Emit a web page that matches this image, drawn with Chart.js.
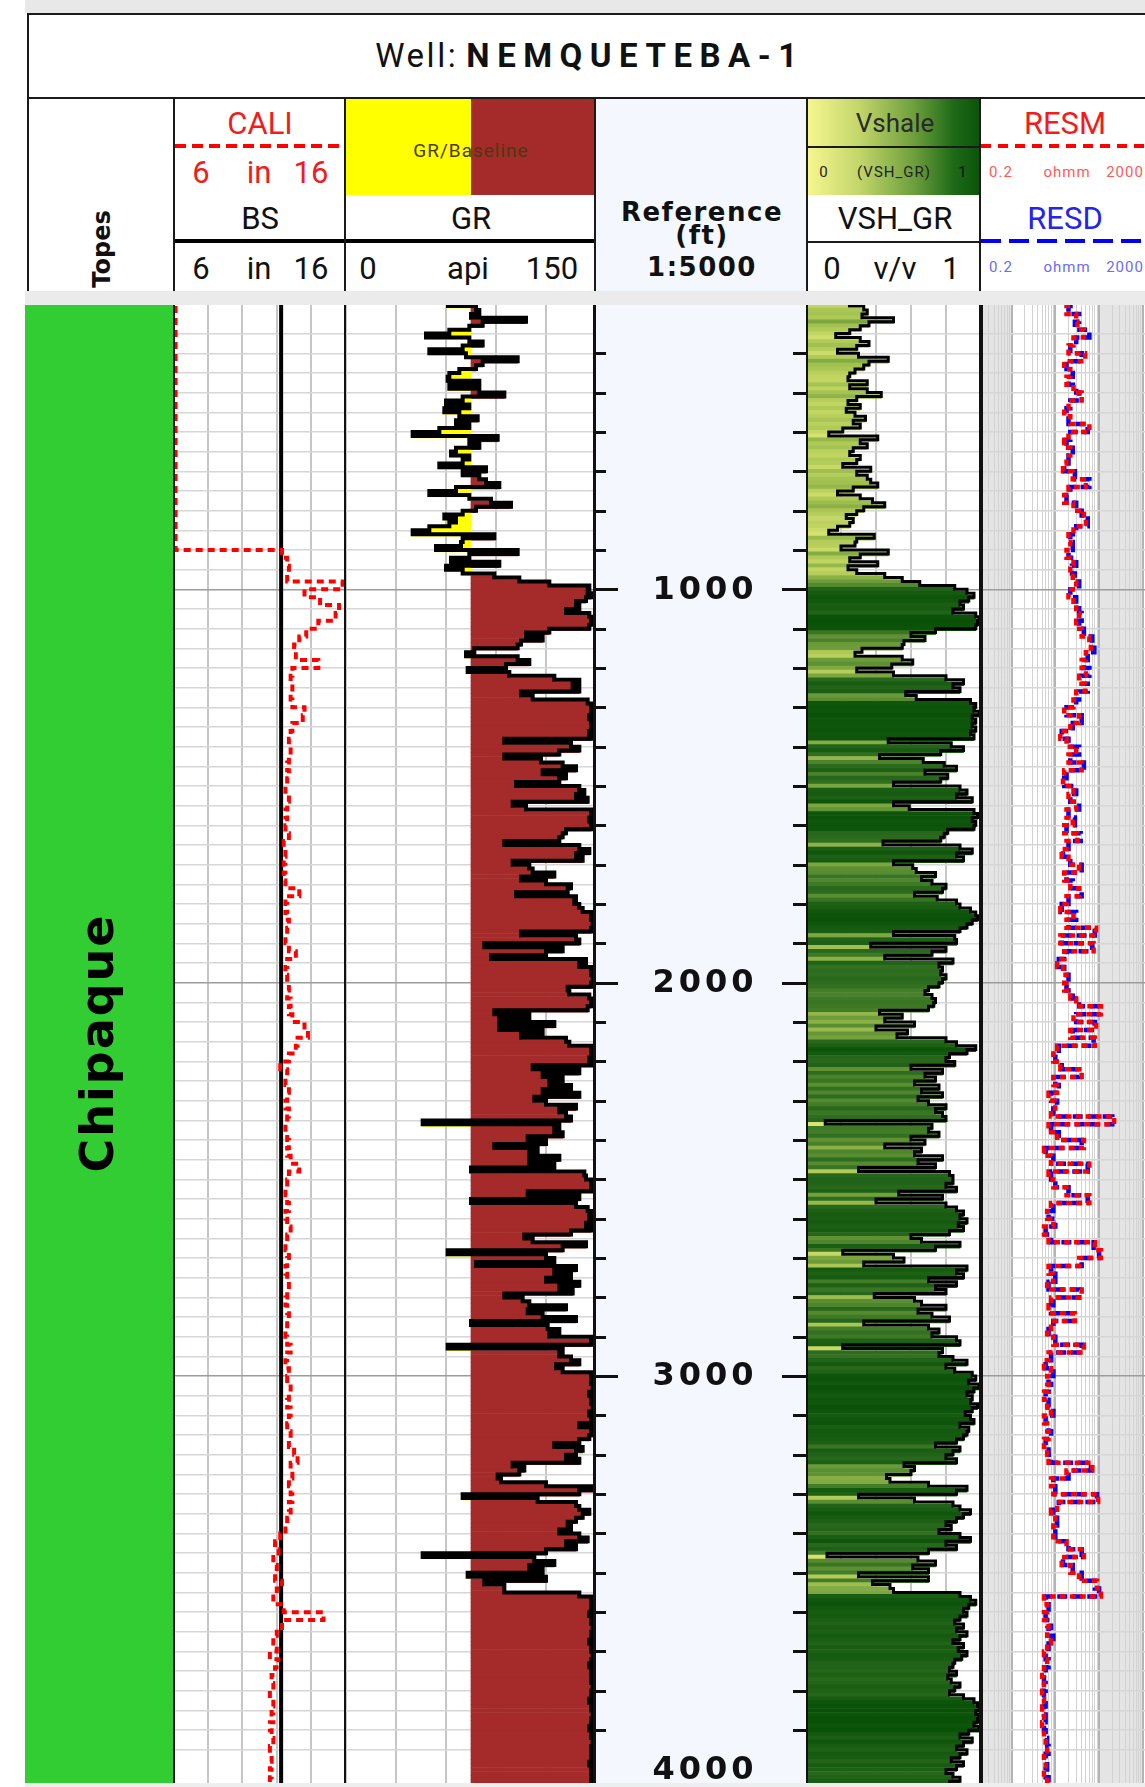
<!DOCTYPE html>
<html lang="es">
<head>
<meta charset="UTF-8" />
<meta name="viewport" content="width=device-width, initial-scale=1" />
<title>Well: NEMQUETEBA-1</title>
<script src="https://cdn.jsdelivr.net/npm/chart.js"></script>
<style>
  body { margin: 0; width: 1145px; height: 1787px; overflow: hidden; position: relative; background: #fff;
         font-family: Roboto, "Liberation Sans", Arial, sans-serif; color: #111; }
  .box { position: absolute; }
  .t { position: absolute; transform: translate(-50%, -50%); white-space: nowrap; line-height: 1; }
  .lbl { font-size: 31px; }
  .red { color: #f21c1c; }
  .blue { color: #2424ee; }
  .small { font-size: 15px; letter-spacing: 1px; }
  .ref { font-family: "DejaVu Sans", Verdana, sans-serif; font-weight: bold; font-size: 26px; letter-spacing: 1.5px; }
  canvas.track { position: absolute; top: 305px; }
</style>
</head>
<body>
  <!-- frame + title -->
  <div class="box" style="left:25px;top:0;width:1120px;height:13px;background:#e8e8e8"></div>
  <div class="box" style="left:27px;top:13px;width:1118px;height:2px;background:#1a1a1a"></div>
  <div class="box" style="left:27px;top:13px;width:2px;height:278px;background:#1a1a1a"></div>
  <div class="box" style="left:27px;top:97px;width:1118px;height:2px;background:#1a1a1a"></div>
  <div class="t" style="left:590px;top:55px;font-size:33px"><span style="letter-spacing:2.5px">Well:</span> <b style="letter-spacing:7.5px">NEMQUETEBA-1</b></div>

  <!-- header backgrounds -->
  <div class="box" style="left:346px;top:99px;width:125px;height:96px;background:#ffff00"></div>
  <div class="box" style="left:471px;top:99px;width:123px;height:96px;background:#a52a2a"></div>
  <div class="box" style="left:596px;top:99px;width:210px;height:192px;background:#f4f8fe"></div>
  <div class="box" style="left:808px;top:99px;width:171px;height:96px;background:linear-gradient(90deg,#f6f68e 0%,#c2d66a 30%,#6d9f3c 62%,#1f6a18 85%,#0a550a 100%)"></div>
  <div class="box" style="left:808px;top:146px;width:171px;height:2px;background:#1a1a1a"></div>

  <!-- header column separators -->
  <div class="box" style="left:173px;top:98px;width:2px;height:193px;background:#1a1a1a"></div>
  <div class="box" style="left:344px;top:98px;width:2px;height:193px;background:#1a1a1a"></div>
  <div class="box" style="left:594px;top:98px;width:2px;height:193px;background:#1a1a1a"></div>
  <div class="box" style="left:806px;top:98px;width:2px;height:193px;background:#1a1a1a"></div>
  <div class="box" style="left:979px;top:98px;width:2px;height:193px;background:#1a1a1a"></div>

  <!-- curve line samples -->
  <div class="box" style="left:175px;top:144px;width:169px;height:4px;background:repeating-linear-gradient(90deg,#ff0000 0 11px,transparent 11px 17px)"></div>
  <div class="box" style="left:175px;top:239px;width:169px;height:4px;background:#000"></div>
  <div class="box" style="left:346px;top:239px;width:248px;height:4px;background:#000"></div>
  <div class="box" style="left:808px;top:241px;width:171px;height:2px;background:#1a1a1a"></div>
  <div class="box" style="left:981px;top:144px;width:164px;height:4px;background:repeating-linear-gradient(90deg,#ff0000 0 10px,transparent 10px 17px)"></div>
  <div class="box" style="left:981px;top:239px;width:164px;height:4px;background:repeating-linear-gradient(90deg,#0000ff 0 20px,transparent 20px 28px)"></div>

  <!-- header texts -->
  <div class="t" style="left:102px;top:249px;font-family:'DejaVu Sans',sans-serif;font-weight:bold;font-size:24px;transform:translate(-50%,-50%) rotate(-90deg)">Topes</div>

  <div class="t lbl red" style="left:260px;top:123px">CALI</div>
  <div class="t lbl red" style="left:201px;top:172px">6</div>
  <div class="t lbl red" style="left:259px;top:172px">in</div>
  <div class="t lbl red" style="left:311px;top:172px">16</div>
  <div class="t lbl" style="left:260px;top:218px">BS</div>
  <div class="t lbl" style="left:201px;top:268px">6</div>
  <div class="t lbl" style="left:259px;top:268px">in</div>
  <div class="t lbl" style="left:311px;top:268px">16</div>

  <div class="t" style="left:471px;top:150px;font-size:19px;letter-spacing:1px;color:#4a3a10">GR/Baseline</div>
  <div class="t lbl" style="left:471px;top:218px">GR</div>
  <div class="t lbl" style="left:368px;top:268px">0</div>
  <div class="t lbl" style="left:468px;top:268px">api</div>
  <div class="t lbl" style="left:552px;top:268px">150</div>

  <div class="t ref" style="left:702px;top:212px">Reference</div>
  <div class="t ref" style="left:702px;top:235px">(ft)</div>
  <div class="t ref" style="left:702px;top:267px">1:5000</div>

  <div class="t" style="left:895px;top:123px;font-size:26px;color:#2a2a2a">Vshale</div>
  <div class="t small" style="left:824px;top:172px;color:#222">0</div>
  <div class="t small" style="left:894px;top:172px;color:#222">(VSH_GR)</div>
  <div class="t small" style="left:963px;top:172px;color:#111">1</div>
  <div class="t lbl" style="left:895px;top:218px">VSH_GR</div>
  <div class="t lbl" style="left:832px;top:268px">0</div>
  <div class="t lbl" style="left:895px;top:268px">v/v</div>
  <div class="t lbl" style="left:951px;top:268px">1</div>

  <div class="t lbl red" style="left:1065px;top:123px">RESM</div>
  <div class="t small" style="left:1001px;top:172px;color:#ff5a5a">0.2</div>
  <div class="t small" style="left:1067px;top:172px;color:#ff5a5a">ohmm</div>
  <div class="t small" style="left:1125px;top:172px;color:#ff5a5a">2000</div>
  <div class="t lbl blue" style="left:1065px;top:218px">RESD</div>
  <div class="t small" style="left:1001px;top:267px;color:#6a6aff">0.2</div>
  <div class="t small" style="left:1067px;top:267px;color:#6a6aff">ohmm</div>
  <div class="t small" style="left:1125px;top:267px;color:#6a6aff">2000</div>

  <!-- band between header and tracks -->
  <div class="box" style="left:25px;top:291px;width:1120px;height:14px;background:#ebebeb"></div>
  <div class="box" style="left:25px;top:1783px;width:1120px;height:4px;background:#eeeeee"></div>

  <canvas id="topes" class="track" width="148" height="1478" style="left:25px"></canvas>
  <canvas id="cali" class="track" width="173" height="1478" style="left:173px"></canvas>
  <canvas id="gr" class="track" width="250" height="1478" style="left:346px"></canvas>
  <canvas id="ref" class="track" width="210" height="1478" style="left:596px;background:#f4f8fe"></canvas>
  <canvas id="vsh" class="track" width="175" height="1478" style="left:806px"></canvas>
  <canvas id="res" class="track" width="175" height="1478" style="left:981px"></canvas>

<script>
// visible depth window (ft)
const DEPTH_TOP = 277.3;
const DEPTH_BASE = 4034.3;

// GR and VSH_GR: one sample every 10 ft from 280 ft
const FINE_START = 280, FINE_STEP = 10;
const grApi = [
  60, 78, 80, 75, 108, 82, 74, 62, 48, 74,        // 280
  82, 70, 50, 72, 103, 82, 78, 68, 62, 61,        // 380
  80, 62, 80, 95, 70, 60, 74, 59, 68, 79,         // 480
  66, 74, 56, 40, 91, 74, 80, 66, 63, 74,         // 580
  70, 56, 84, 70, 80, 84, 92, 66, 50, 74,         // 680
  87, 99, 78, 70, 59, 66, 62, 50, 40, 89,         // 780
  70, 69, 54, 103, 74, 63, 92, 60, 70, 89,        // 880
  104, 122, 146, 145, 147, 144, 138, 140, 132, 146, // 980
  148, 147, 146, 122, 108, 118, 105, 103, 77, 72, // 1080
  103, 110, 96, 73, 98, 125, 140, 136, 140, 105,  // 1180
  112, 145, 148, 147, 149, 146, 148, 147, 148, 146, // 1280
  147, 95, 135, 140, 128, 95, 117, 130, 138, 118, // 1380
  132, 128, 102, 140, 143, 138, 145, 100, 108, 147, // 1480
  148, 146, 148, 147, 132, 130, 128, 95, 140, 146, // 1580
  138, 142, 100, 110, 112, 125, 105, 120, 135, 133, // 1680
  102, 138, 137, 140, 142, 148, 147, 148, 149, 147, // 1780
  105, 138, 140, 83, 130, 120, 87, 144, 140, 148, // 1880
  147, 149, 148, 147, 133, 134, 146, 148, 147, 145, // 1980
  89, 110, 92, 125, 92, 118, 105, 132, 134, 148,  // 2080
  147, 148, 146, 148, 112, 140, 118, 130, 122, 135, // 2180
  118, 140, 113, 120, 138, 128, 132, 135, 46, 128, // 2280
  125, 130, 109, 120, 89, 115, 110, 128, 110, 125, // 2380
  75, 143, 144, 148, 147, 148, 109, 140, 75, 138, // 2480
  145, 147, 146, 148, 144, 147, 135, 107, 112, 144, // 2580
  130, 61, 120, 125, 78, 138, 125, 135, 120, 140, // 2680
  128, 136, 95, 106, 110, 132, 109, 118, 138, 75, // 2780
  121, 128, 122, 148, 147, 61, 130, 128, 135, 140, // 2880
  126, 130, 147, 148, 147, 149, 148, 146, 148, 147, // 2980
  149, 148, 146, 147, 148, 140, 147, 148, 146, 140, // 3080
  125, 142, 138, 132, 140, 100, 107, 104, 91, 93, // 3180
  120, 148, 140, 70, 115, 138, 140, 146, 142, 138, // 3280
  133, 135, 128, 140, 145, 132, 138, 120, 46, 113, // 3380
  125, 110, 118, 73, 120, 83, 95, 95, 140, 147,   // 3480
  148, 147, 148, 146, 148, 147, 149, 148, 147, 148, // 3580
  146, 148, 147, 148, 149, 147, 146, 148, 147, 148, // 3680
  147, 149, 148, 147, 148, 146, 148, 147, 148, 149, // 3780
  147, 148, 146, 148, 147, 148, 149, 147, 148, 147, // 3880
  148, 146, 148, 147, 148, 147, 148                 // 3980
];
const vshGr = [
  0.24, 0.33, 0.35, 0.32, 0.50, 0.36, 0.31, 0.25, 0.17, 0.31, // 280
  0.36, 0.29, 0.18, 0.30, 0.47, 0.36, 0.33, 0.28, 0.25, 0.24, // 380
  0.35, 0.25, 0.35, 0.43, 0.29, 0.24, 0.31, 0.23, 0.28, 0.34, // 480
  0.27, 0.31, 0.21, 0.13, 0.41, 0.31, 0.35, 0.27, 0.25, 0.31, // 580
  0.29, 0.21, 0.37, 0.29, 0.35, 0.37, 0.41, 0.27, 0.18, 0.31, // 680
  0.38, 0.45, 0.33, 0.29, 0.23, 0.27, 0.25, 0.18, 0.13, 0.39, // 780
  0.29, 0.28, 0.20, 0.47, 0.31, 0.25, 0.41, 0.24, 0.29, 0.45, // 880
  0.55, 0.65, 0.85, 0.92, 0.96, 0.93, 0.88, 0.90, 0.84, 0.97, // 980
  0.99, 0.98, 0.97, 0.74, 0.60, 0.68, 0.56, 0.55, 0.32, 0.28, // 1080
  0.55, 0.61, 0.49, 0.29, 0.50, 0.80, 0.90, 0.84, 0.88, 0.57, // 1180
  0.63, 0.94, 0.97, 0.96, 0.99, 0.95, 0.97, 0.95, 0.97, 0.94, // 1280
  0.96, 0.47, 0.83, 0.90, 0.77, 0.42, 0.67, 0.79, 0.86, 0.68, // 1380
  0.81, 0.77, 0.50, 0.88, 0.92, 0.86, 0.95, 0.50, 0.59, 0.96, // 1480
  0.98, 0.95, 0.97, 0.96, 0.81, 0.79, 0.77, 0.44, 0.88, 0.95, // 1580
  0.86, 0.90, 0.50, 0.61, 0.63, 0.74, 0.66, 0.72, 0.80, 0.78, // 1680
  0.62, 0.75, 0.86, 0.88, 0.94, 0.97, 0.98, 0.95, 0.92, 0.88, // 1780
  0.50, 0.85, 0.86, 0.37, 0.80, 0.72, 0.45, 0.84, 0.76, 0.78, // 1880
  0.77, 0.80, 0.78, 0.76, 0.70, 0.68, 0.72, 0.74, 0.73, 0.70, // 1980
  0.42, 0.55, 0.45, 0.62, 0.40, 0.58, 0.52, 0.80, 0.86, 0.97, // 2080
  0.92, 0.82, 0.80, 0.85, 0.60, 0.78, 0.68, 0.74, 0.62, 0.76, // 2180
  0.66, 0.78, 0.64, 0.70, 0.80, 0.74, 0.78, 0.80, 0.11, 0.72, // 2280
  0.70, 0.76, 0.60, 0.68, 0.45, 0.66, 0.62, 0.78, 0.64, 0.74, // 2380
  0.30, 0.82, 0.84, 0.84, 0.80, 0.86, 0.53, 0.78, 0.40, 0.80, // 2480
  0.86, 0.90, 0.88, 0.92, 0.87, 0.90, 0.82, 0.60, 0.66, 0.88, // 2580
  0.74, 0.21, 0.50, 0.56, 0.33, 0.92, 0.86, 0.90, 0.70, 0.86, // 2680
  0.74, 0.80, 0.39, 0.62, 0.66, 0.80, 0.64, 0.72, 0.82, 0.33, // 2780
  0.70, 0.76, 0.72, 0.86, 0.88, 0.21, 0.78, 0.76, 0.84, 0.92, // 2880
  0.80, 0.85, 0.95, 0.97, 0.93, 0.99, 0.96, 0.92, 0.95, 0.94, // 2980
  0.98, 0.95, 0.91, 0.94, 0.96, 0.88, 0.93, 0.92, 0.90, 0.86, // 3080
  0.74, 0.88, 0.84, 0.80, 0.86, 0.56, 0.62, 0.60, 0.46, 0.48, // 3180
  0.70, 0.92, 0.86, 0.30, 0.62, 0.84, 0.88, 0.94, 0.90, 0.86, // 3280
  0.80, 0.83, 0.76, 0.88, 0.94, 0.80, 0.86, 0.70, 0.12, 0.64, // 3380
  0.74, 0.61, 0.70, 0.30, 0.70, 0.38, 0.48, 0.50, 0.88, 0.94, // 3480
  0.97, 0.93, 0.90, 0.92, 0.88, 0.85, 0.90, 0.86, 0.92, 0.88, // 3580
  0.84, 0.90, 0.87, 0.92, 0.89, 0.85, 0.84, 0.82, 0.86, 0.81, // 3680
  0.83, 0.88, 0.85, 0.82, 0.90, 0.96, 0.98, 0.99, 0.97, 0.99, // 3780
  0.98, 0.96, 0.99, 0.93, 0.88, 0.95, 0.90, 0.86, 0.92, 0.88, // 3880
  0.83, 0.90, 0.86, 0.80, 0.84, 0.88, 0.82                    // 3980
];

// CALI, RESM, RESD: one sample every 20 ft from 280 ft
const COARSE_START = 280, COARSE_STEP = 20;
const caliIn = [
  6.15, 6.15, 6.15, 6.15, 6.15, 6.15, 6.15, 6.15, 6.15, 6.15, // 280
  6.15, 6.15, 6.15, 6.15, 6.15, 6.15, 6.15, 6.15, 6.15, 6.15, // 480
  6.15, 6.15, 6.15, 6.15, 6.15, 6.15, 6.15, 6.15, 6.15, 6.15, // 680
  6.15, 6.15, 12.3, 12.6, 12.7, 12.6, 15.8, 13.6, 14.5, 15.6, // 880
  15.4, 14.4, 13.7, 13.3, 13.0, 13.1, 14.4, 12.9, 12.8, 12.9, // 1080
  12.8, 12.9, 13.6, 13.5, 12.9, 12.8, 12.7, 12.8, 12.7, 12.6, // 1280
  12.7, 12.6, 12.5, 12.7, 12.6, 12.5, 12.6, 12.5, 12.7, 12.4, // 1480
  12.5, 12.4, 12.5, 12.4, 12.5, 13.3, 12.5, 12.6, 12.5, 12.7, // 1680
  12.6, 12.5, 12.7, 13.1, 12.6, 12.5, 12.6, 12.7, 12.6, 12.8, // 1880
  12.7, 12.9, 13.6, 13.8, 13.2, 13.1, 12.7, 12.2, 12.6, 12.5, // 2080
  12.7, 12.6, 12.5, 12.7, 12.6, 12.5, 12.6, 12.7, 12.6, 12.8, // 2280
  13.3, 12.7, 12.6, 12.5, 12.6, 12.7, 12.5, 12.6, 12.8, 12.6, // 2480
  12.5, 12.7, 12.6, 12.5, 12.6, 12.7, 12.6, 12.5, 12.6, 12.7, // 2680
  12.6, 12.5, 12.6, 12.8, 12.6, 12.5, 12.7, 12.6, 12.8, 12.7, // 2880
  12.6, 12.8, 12.7, 12.6, 12.8, 12.7, 13.0, 13.2, 12.8, 12.9, // 3080
  12.7, 12.8, 12.9, 12.7, 12.8, 12.6, 12.5, 12.2, 11.9, 12.1, // 3280
  11.8, 12.0, 11.9, 12.3, 12.0, 11.8, 12.4, 14.7, 12.3, 12.0, // 3480
  11.8, 12.0, 11.6, 12.1, 11.9, 11.7, 11.8, 11.6, 11.8, 11.7, // 3680
  11.8, 11.6, 11.7, 11.8, 11.6, 11.7, 11.6, 11.7, 11.6        // 3880
];
const resdOhmm = [
  25, 20, 35, 28, 60, 30, 22, 40, 18, 25,   // 280
  20, 30, 35, 22, 18, 20, 55, 22, 18, 25,   // 480
  20, 16, 28, 60, 22, 18, 30, 40, 55, 30,   // 680
  22, 25, 20, 30, 24, 28, 35, 22, 30, 35,   // 880
  40, 35, 45, 70, 78, 55, 45, 60, 40, 55,   // 1080
  35, 30, 18, 40, 25, 14, 20, 35, 22, 45,   // 1280
  18, 16, 30, 22, 35, 20, 28, 18, 38, 20,   // 1480
  15, 22, 40, 18, 25, 40, 20, 14, 30, 20,   // 1680
  80, 14, 70, 18, 12, 16, 20, 18, 25, 35,   // 1880
  100, 30, 80, 25, 75, 12, 10, 14, 35, 10,  // 2080
  12, 8, 11, 9, 200, 8, 12, 40, 6, 9,       // 2280
  55, 8, 10, 20, 55, 9, 7, 10, 6, 8,        // 2480
  75, 100, 40, 8, 10, 7, 35, 9, 8, 25,      // 2680
  9, 7, 10, 40, 8, 6, 9, 7, 8, 6,           // 2880
  7, 9, 6, 7, 8, 6, 7, 8, 65, 20,           // 3080
  9, 10, 90, 12, 9, 11, 10, 10, 20, 40,     // 3280
  15, 25, 40, 80, 100, 6, 7, 6, 8, 7,       // 3480
  9, 7, 6, 7, 6, 5.5, 6, 5.5, 6, 5.5,       // 3680
  6, 5.5, 6, 6.5, 7, 6, 6.5, 6, 7           // 3880
];
const resmOhmm = [
  22, 18, 30, 32, 45, 26, 20, 48, 16, 22,   // 280
  18, 26, 40, 20, 16, 22, 60, 20, 16, 22,   // 480
  18, 15, 25, 50, 20, 16, 26, 45, 50, 26,   // 680
  20, 22, 18, 26, 22, 25, 30, 20, 26, 30,   // 880
  35, 30, 40, 60, 65, 50, 40, 50, 35, 48,   // 1080
  30, 26, 16, 35, 22, 13, 18, 30, 20, 40,   // 1280
  16, 15, 26, 20, 30, 18, 25, 16, 32, 18,   // 1480
  14, 20, 35, 16, 22, 35, 18, 13, 26, 18,   // 1680
  85, 13, 75, 16, 11, 15, 18, 16, 22, 30,   // 1880
  110, 26, 85, 22, 80, 11, 9, 13, 40, 9,    // 2080
  11, 7, 10, 8, 220, 7, 11, 45, 5.5, 8,     // 2280
  60, 7, 9, 18, 60, 8, 6.5, 9, 5.5, 7,      // 2480
  80, 110, 35, 7, 9, 6.5, 40, 8, 7, 28,     // 2680
  8, 6.5, 9, 45, 7, 5.5, 8, 6.5, 7, 5.5,    // 2880
  6.5, 8, 5.5, 6.5, 7, 5.5, 6.5, 7, 70, 18, // 3080
  8, 9, 95, 11, 8, 10, 9, 9, 18, 45,        // 3280
  14, 22, 35, 90, 110, 5.5, 6.5, 5.5, 7, 6.5, // 3480
  8, 6.5, 5.5, 6.5, 5.5, 5, 5.5, 5, 5.5, 5, // 3680
  5.5, 5, 5.5, 6, 6.5, 5.5, 6, 5.5, 6.5     // 3880
];

// bit size
const bsDepth = [277, 4040];
const bsIn = [12.25, 12.25];

// formation tops
const topeNames = ['Chipaque'];
const topeTop = [250];
const topeBase = [4060];

const depthLabels = [1000, 2000, 3000, 4000];
const GR_BASELINE = 75;

const toPoints = (vals, start, step) => vals.map((v, i) => ({ x: v, y: start + i * step }));
const grPts = toPoints(grApi, FINE_START, FINE_STEP);
const vshPts = toPoints(vshGr, FINE_START, FINE_STEP);
const caliPts = toPoints(caliIn, COARSE_START, COARSE_STEP);
const resdPts = toPoints(resdOhmm, COARSE_START, COARSE_STEP);
const resmPts = toPoints(resmOhmm, COARSE_START, COARSE_STEP);
const bsPts = bsIn.map((v, i) => ({ x: v, y: bsDepth[i] }));

// green ramp for the shale fill
const vshRamp = [[0, [236, 240, 130]], [0.25, [192, 212, 96]], [0.4, [152, 186, 76]],
                 [0.6, [96, 146, 52]], [0.8, [40, 104, 28]], [1, [6, 80, 6]]];
function vshColor(v) {
  for (let i = 1; i < vshRamp.length; i++) {
    if (v <= vshRamp[i][0]) {
      const [a, ca] = vshRamp[i - 1], [b, cb] = vshRamp[i];
      const f = (v - a) / (b - a);
      return 'rgb(' + ca.map((c, k) => Math.round(c + (cb[k] - c) * f)).join(',') + ')';
    }
  }
  return 'rgb(6,80,6)';
}

function depthAxis(step, withGrid) {
  return {
    type: 'linear', reverse: true, min: DEPTH_TOP, max: DEPTH_BASE, offset: false,
    afterFit: s => { s.width = 0; },
    afterBuildTicks: s => { s.ticks = s.ticks.filter(t => t.value % step === 0); },
    ticks: { display: false, stepSize: step },
    border: { display: false },
    grid: withGrid
      ? { offset: false, drawTicks: false, lineWidth: 1.5,
          color: c => (c.tick && c.tick.value % 1000 === 0) ? '#9c9c9c' : '#d6d6d6' }
      : { display: false }
  };
}

function valueAxis(opts, grid) {
  return Object.assign({
    afterFit: s => { s.height = 0; },
    border: { display: false },
    grid: Object.assign({ drawTicks: false, lineWidth: 2, color: '#c6c6c6' }, grid)
  }, opts);
}

function baseOptions(scales, plugins, indexAxis) {
  return {
    responsive: false, animation: false, events: [],
    indexAxis: indexAxis || 'y',
    layout: { padding: 0 },
    plugins: Object.assign({ legend: { display: false }, tooltip: { enabled: false } }, plugins),
    scales
  };
}

// black track borders
const frame = {
  id: 'frame',
  afterDraw(chart, args, opts) {
    const { ctx, chartArea: a } = chart;
    ctx.save();
    ctx.strokeStyle = '#111';
    if (opts.left) {
      ctx.lineWidth = opts.left;
      ctx.beginPath(); ctx.moveTo(a.left + opts.left / 2, a.top); ctx.lineTo(a.left + opts.left / 2, a.bottom); ctx.stroke();
    }
    if (opts.right) {
      ctx.lineWidth = opts.right;
      ctx.beginPath(); ctx.moveTo(a.right - opts.right / 2, a.top); ctx.lineTo(a.right - opts.right / 2, a.bottom); ctx.stroke();
    }
    ctx.restore();
  }
};

// Topes
const topeLabel = {
  id: 'topeLabel',
  afterDatasetsDraw(chart) {
    const { ctx, chartArea: a } = chart;
    chart.getDatasetMeta(0).data.forEach((bar, i) => {
      const top = Math.max(Math.min(bar.y, bar.base), a.top);
      const bottom = Math.min(Math.max(bar.y, bar.base), a.bottom);
      ctx.save();
      ctx.translate(bar.x + 2, (top + bottom) / 2);
      ctx.rotate(-Math.PI / 2);
      ctx.font = 'bold 46px "DejaVu Sans", sans-serif';
      ctx.letterSpacing = '2px';
      ctx.fillStyle = '#000';
      ctx.textAlign = 'center';
      ctx.textBaseline = 'middle';
      ctx.fillText(topeNames[i], 1, 0);
      ctx.restore();
    });
  }
};

new Chart(document.getElementById('topes'), {
  type: 'bar',
  data: {
    labels: topeNames,
    datasets: [{
      data: topeNames.map((_, i) => [topeTop[i], topeBase[i]]),
      backgroundColor: '#32cd32', borderWidth: 0,
      barPercentage: 1, categoryPercentage: 1
    }]
  },
  options: baseOptions({
    x: { type: 'category', afterFit: s => { s.height = 0; }, ticks: { display: false }, grid: { display: false }, border: { display: false } },
    y: depthAxis(50, false)
  }, {}, 'x'),
  plugins: [topeLabel]
});

// CALI / BS
new Chart(document.getElementById('cali'), {
  type: 'line',
  data: {
    datasets: [
      { data: caliPts, indexAxis: 'y', borderColor: '#ff0000', borderWidth: 4, borderDash: [7, 5],
        stepped: true, pointRadius: 0, fill: false, order: 0 },
      { data: bsPts, indexAxis: 'y', borderColor: '#000', borderWidth: 4, pointRadius: 0, fill: false, order: 1 }
    ]
  },
  options: baseOptions({
    x: valueAxis({ type: 'linear', min: 6, max: 16, ticks: { display: false, stepSize: 2 } }),
    y: depthAxis(50, true)
  }, { frame: { left: 2, right: 2 } }),
  plugins: [frame]
});

// GR with baseline fill
new Chart(document.getElementById('gr'), {
  type: 'bar',
  data: {
    datasets: [
      { type: 'line', data: grPts, indexAxis: 'y', borderColor: '#000', borderWidth: 4, stepped: true,
        pointRadius: 0, fill: false, order: 0 },
      { type: 'bar', data: grPts.map(p => ({ y: p.y, x: [GR_BASELINE, p.x] })), indexAxis: 'y',
        backgroundColor: c => (c.raw && c.raw.x[1] >= GR_BASELINE) ? '#a52a2a' : '#ffff00',
        borderWidth: 0, barPercentage: 1, categoryPercentage: 1, order: 1 }
    ]
  },
  options: baseOptions({
    x: valueAxis({ type: 'linear', min: 0, max: 150, ticks: { display: false, stepSize: 30 } }),
    y: depthAxis(50, true)
  }, { frame: { right: 3 } }),
  plugins: [frame]
});

// Reference (depth) track
const depthTrack = {
  id: 'depthTrack',
  afterDraw(chart) {
    const { ctx, chartArea: a, scales: { y } } = chart;
    ctx.save();
    ctx.strokeStyle = '#111';
    ctx.lineWidth = 3;
    y.ticks.forEach(t => {
      const py = Math.round(y.getPixelForValue(t.value)) + 0.5;
      const major = depthLabels.includes(t.value);
      ctx.beginPath();
      ctx.moveTo(a.left, py); ctx.lineTo(a.left + (major ? 22 : 10), py);
      ctx.moveTo(a.right, py); ctx.lineTo(a.right - (major ? 24 : 13), py);
      ctx.stroke();
    });
    ctx.font = 'bold 32px "DejaVu Sans", Verdana, sans-serif';
    ctx.letterSpacing = '4px';
    ctx.fillStyle = '#111';
    ctx.textAlign = 'center';
    ctx.textBaseline = 'middle';
    depthLabels.forEach(d => ctx.fillText(String(d), (a.left + a.right) / 2 + 4, y.getPixelForValue(d) + 1));
    ctx.restore();
  }
};

new Chart(document.getElementById('ref'), {
  type: 'line',
  data: { datasets: [] },
  options: baseOptions({
    x: { type: 'linear', min: 0, max: 1, display: false },
    y: depthAxis(100, false)
  }, {}),
  plugins: [depthTrack]
});

// VSH_GR with coloured shale fill
new Chart(document.getElementById('vsh'), {
  type: 'bar',
  data: {
    datasets: [
      { type: 'line', data: vshPts, indexAxis: 'y', borderColor: '#000', borderWidth: 3, stepped: true,
        pointRadius: 0, fill: false, order: 0 },
      { type: 'bar', data: vshPts, indexAxis: 'y',
        backgroundColor: c => vshColor(c.raw ? c.raw.x : 0),
        borderWidth: 0, barPercentage: 1, categoryPercentage: 1, order: 1 }
    ]
  },
  options: baseOptions({
    x: valueAxis({ type: 'linear', min: 0, max: 1, ticks: { display: false, stepSize: 0.2 } }),
    y: depthAxis(50, true)
  }, { frame: { left: 2, right: 2 } }),
  plugins: [frame]
});

// Resistivity, log scale
const resShade = [[0.2, 1], [100, 1000]];
const resBands = {
  id: 'resBands',
  beforeDraw(chart) {
    const { ctx, chartArea: a, scales: { x } } = chart;
    ctx.save();
    ctx.fillStyle = '#e4e4e4';
    resShade.forEach(([lo, hi]) => {
      const x0 = x.getPixelForValue(lo), x1 = x.getPixelForValue(hi);
      ctx.fillRect(x0, a.top, x1 - x0, a.bottom - a.top);
    });
    ctx.restore();
  }
};
const logTicks = [];
[0.1, 1, 10, 100, 1000].forEach(dec => {
  for (let m = 1; m <= 9; m++) {
    const v = +(m * dec).toPrecision(3);
    if (v >= 0.2 && v <= 2000) logTicks.push(v);
  }
});
const isDecade = v => [1, 10, 100, 1000].includes(v);

new Chart(document.getElementById('res'), {
  type: 'line',
  data: {
    datasets: [
      { data: resmPts, indexAxis: 'y', borderColor: '#ff0000', borderWidth: 4.5, borderDash: [6, 4],
        stepped: true, pointRadius: 0, fill: false, order: 0 },
      { data: resdPts, indexAxis: 'y', borderColor: '#0000ff', borderWidth: 4.5, borderDash: [10, 5],
        stepped: true, pointRadius: 0, fill: false, order: 1 }
    ]
  },
  options: baseOptions({
    x: valueAxis({
      type: 'logarithmic', min: 0.2, max: 2000,
      ticks: { display: false },
      afterBuildTicks: s => { s.ticks = logTicks.map(v => ({ value: v })); }
    }, {
      lineWidth: c => (c.tick && isDecade(c.tick.value)) ? 2 : 1,
      color: c => (c.tick && isDecade(c.tick.value)) ? '#b4b4b4' : '#d2d2d2'
    }),
    y: depthAxis(50, true)
  }, { frame: { left: 2 } }),
  plugins: [frame, resBands]
});
</script>
</body>
</html>
